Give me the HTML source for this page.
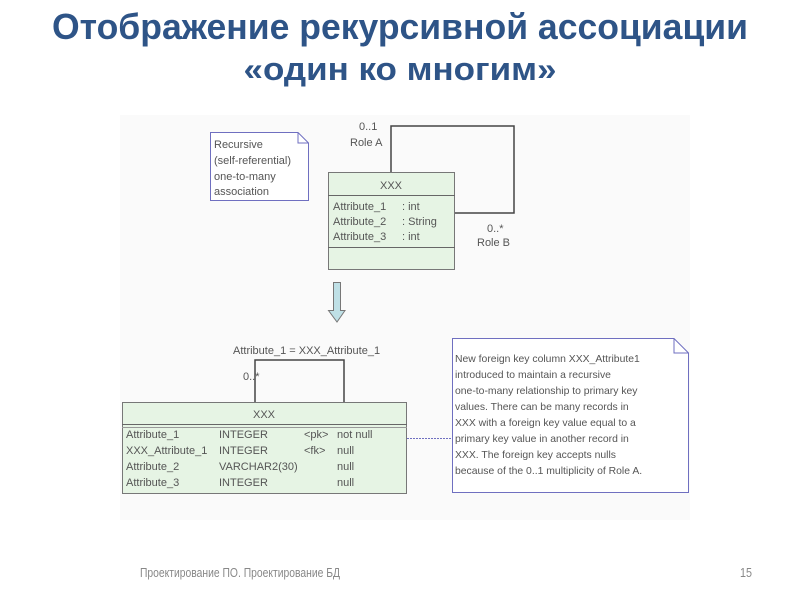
<!DOCTYPE html>
<html><head><meta charset="utf-8"><style>
html,body{margin:0;padding:0;background:#fff;width:800px;height:600px;overflow:hidden}
svg{display:block}
.t{font-family:"Liberation Sans Narrow","Liberation Sans",sans-serif;font-weight:bold;fill:#2e5487}
.s{font-family:"Liberation Sans",sans-serif;font-size:11px;fill:#555}
.n{font-family:"Liberation Sans",sans-serif;font-size:10.4px;fill:#555}
.f{font-family:"Liberation Sans Narrow","Liberation Sans",sans-serif;font-size:13px;fill:#888}
</style></head><body>
<svg width="800" height="600" viewBox="0 0 800 600">
<text class="t" x="400" y="39" font-size="36" text-anchor="middle" textLength="696" lengthAdjust="spacingAndGlyphs">Отображение рекурсивной ассоциации</text>
<text class="t" x="400" y="80" font-size="32" text-anchor="middle" textLength="313" lengthAdjust="spacingAndGlyphs">«один ко многим»</text>
<rect x="120" y="115" width="570" height="405" fill="#fafafa"/>
<path d="M210.5 132.5 H298 L308.5 143 V200.5 H210.5 Z" fill="#fff" stroke="#6f6fc0"/>
<path d="M298 132.5 V143 H308.5" fill="none" stroke="#6f6fc0"/>
<text class="s" x="214" y="148">Recursive</text>
<text class="s" x="214" y="164">(self-referential)</text>
<text class="s" x="214" y="180">one-to-many</text>
<text class="s" x="214" y="195">association</text>
<path d="M391 172 V126 H514 V213 H455" fill="none" stroke="#444" stroke-width="1.5"/>
<text class="s" x="359" y="130">0..1</text>
<text class="s" x="350" y="146">Role A</text>
<text class="s" x="487" y="232">0..*</text>
<text class="s" x="477" y="246">Role B</text>
<rect x="328.5" y="172.5" width="126" height="97" fill="#e6f4e4" stroke="#777"/>
<line x1="328" y1="195.5" x2="455" y2="195.5" stroke="#666"/>
<line x1="328" y1="247.5" x2="455" y2="247.5" stroke="#666"/>
<text class="s" x="391" y="189" text-anchor="middle">XXX</text>
<text class="s" x="333" y="210">Attribute_1</text><text class="s" x="402" y="210">: int</text>
<text class="s" x="333" y="225">Attribute_2</text><text class="s" x="402" y="225">: String</text>
<text class="s" x="333" y="240">Attribute_3</text><text class="s" x="402" y="240">: int</text>
<path d="M333.5 282.5 H340.5 V310.5 H345 L337 322 L328.5 310.5 H333.5 Z" fill="#bfe0e6" stroke="#777"/>
<text class="s" x="233" y="354">Attribute_1 = XXX_Attribute_1</text>
<path d="M255 402 V360 H344 V402" fill="none" stroke="#444" stroke-width="1.5"/>
<text class="s" x="243" y="380">0..*</text>
<rect x="122.5" y="402.5" width="284" height="91" fill="#e6f4e4" stroke="#777"/>
<line x1="122" y1="424.5" x2="407" y2="424.5" stroke="#666"/>
<line x1="122" y1="427.5" x2="407" y2="427.5" stroke="#999"/>
<text class="s" x="264" y="418" text-anchor="middle">XXX</text>
<text class="s" x="126" y="438">Attribute_1</text><text class="s" x="219" y="438">INTEGER</text><text class="s" x="304" y="438">&lt;pk&gt;</text><text class="s" x="337" y="438">not null</text>
<text class="s" x="126" y="454">XXX_Attribute_1</text><text class="s" x="219" y="454">INTEGER</text><text class="s" x="304" y="454">&lt;fk&gt;</text><text class="s" x="337" y="454">null</text>
<text class="s" x="126" y="470">Attribute_2</text><text class="s" x="219" y="470">VARCHAR2(30)</text><text class="s" x="337" y="470">null</text>
<text class="s" x="126" y="486">Attribute_3</text><text class="s" x="219" y="486">INTEGER</text><text class="s" x="337" y="486">null</text>
<line x1="407" y1="438.5" x2="452" y2="438.5" stroke="#6f6fc0" stroke-dasharray="2,1"/>
<path d="M452.5 338.5 H674 L688.5 353 V492.5 H452.5 Z" fill="#fff" stroke="#6f6fc0"/>
<path d="M674 338.5 V353 H688.5" fill="none" stroke="#6f6fc0"/>
<text class="n" x="455" y="362">New foreign key column XXX_Attribute1</text>
<text class="n" x="455" y="378">introduced to maintain a recursive</text>
<text class="n" x="455" y="394">one-to-many relationship to primary key</text>
<text class="n" x="455" y="410">values. There can be many records in</text>
<text class="n" x="455" y="426">XXX with a foreign key value equal to a</text>
<text class="n" x="455" y="442">primary key value in another record in</text>
<text class="n" x="455" y="458">XXX. The foreign key accepts nulls</text>
<text class="n" x="455" y="474">because of the 0..1 multiplicity of Role A.</text>
<text class="f" x="140" y="577" textLength="200" lengthAdjust="spacingAndGlyphs">Проектирование ПО. Проектирование БД</text>
<text class="f" x="740" y="577" textLength="12" lengthAdjust="spacingAndGlyphs">15</text>
</svg>
</body></html>
